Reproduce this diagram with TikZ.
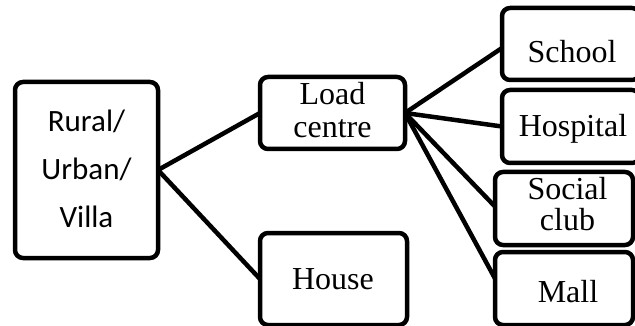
\documentclass[tikz,border=0pt]{standalone}
\usepackage{fontspec}
\setmainfont{Liberation Serif}
\newfontfamily\calibrifont{Carlito}
\usetikzlibrary{calc}
\begin{document}
\begin{tikzpicture}[x=1pt,y=-1pt,
  box/.style={draw=black, line width=4.5pt, rounded corners=8pt, inner sep=0pt, outer sep=0pt, fill=white},
  conn/.style={draw=black, line width=4.5pt},
  lbl/.style={inner sep=0pt, font=\fontsize{32}{34}\selectfont},
  slbl/.style={inner sep=0pt, font=\calibrifont\fontsize{31}{48}\selectfont}]
\useasboundingbox (0,0) rectangle (635,326);
% boxes (center, size)
\node[box, minimum width=143pt, minimum height=176pt] (rural) at (86.5,170) {};
\node[box, minimum width=145pt, minimum height=72pt] (load) at (332.5,113) {};
\node[box, minimum width=147pt, minimum height=92pt] (house) at (333.5,279) {};
\node[box, minimum width=138pt, minimum height=72pt] (school) at (571,44) {};
\node[box, minimum width=138pt, minimum height=73pt] (hospital) at (571,126.5) {};
\node[box, minimum width=138pt, minimum height=73pt] (social) at (564,208.5) {};
\node[box, minimum width=138pt, minimum height=73pt] (mall) at (564,288.5) {};
% connectors
\draw[conn] (rural.east) -- (load.west);
\draw[conn] (rural.east) -- (house.west);
\draw[conn] (load.east) -- ($(school.west)+(0,4)$);
\draw[conn] (load.east) -- (hospital.west);
\draw[conn] (load.east) -- ($(social.west)+(0,-2)$);
\draw[conn] (load.east) -- ($(mall.west)+(0,-10)$);
% labels
\node[slbl, anchor=base] (t1) at (86.5,132) {Rural/};
\node[slbl, anchor=base] (t2) at (86.5,180) {Urban/};
\node[slbl, anchor=base] (t3) at (86.5,228) {Villa};
\node[lbl, anchor=base] (t4) at (332.5,105) {Load};
\node[lbl, anchor=base] (t5) at (332.5,138) {centre};
\node[lbl, anchor=base] (t6) at (333,289) {House};
\node[lbl, anchor=base] (t7) at (572,63) {School};
\node[lbl, anchor=base] (t8) at (573,137) {Hospital};
\node[lbl, anchor=base] (t9) at (567.5,200) {Social};
\node[lbl, anchor=base] (t10) at (567.5,230) {club};
\node[lbl, anchor=base] (t11) at (568,302) {Mall};
\end{tikzpicture}
\end{document}
